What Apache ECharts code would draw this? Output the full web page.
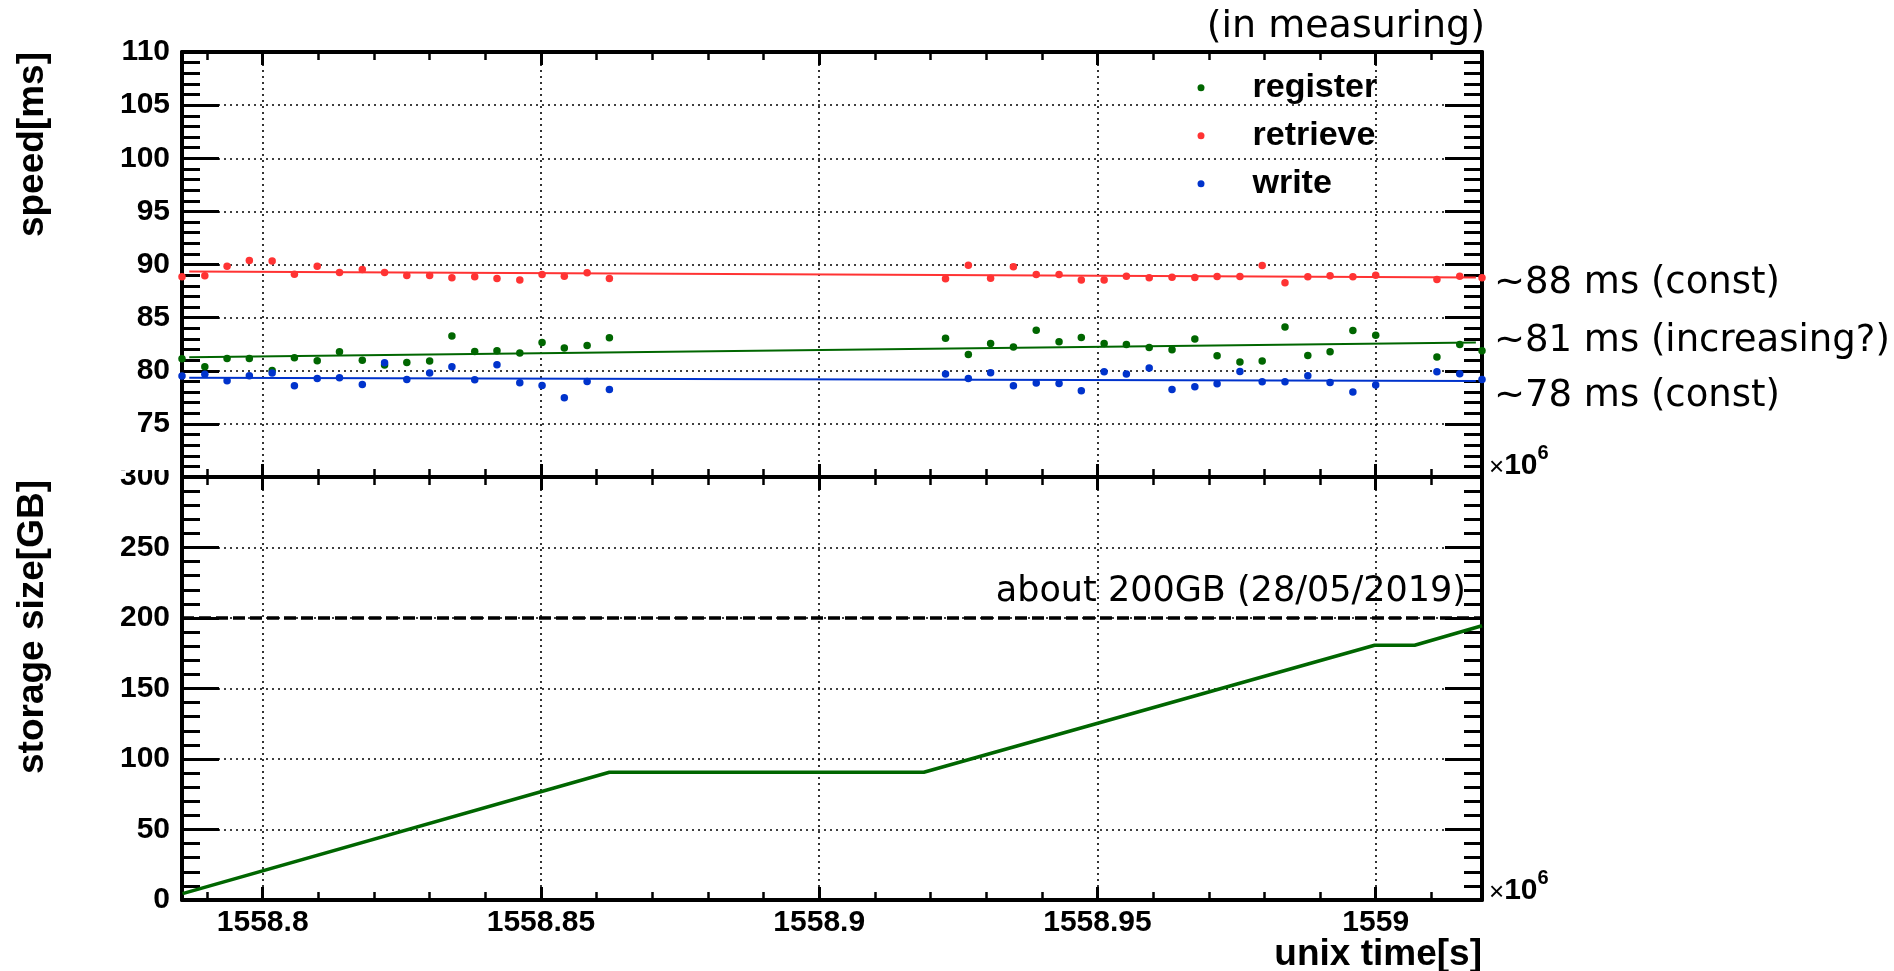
<!DOCTYPE html>
<html>
<head>
<meta charset="utf-8">
<script src="https://cdn.jsdelivr.net/npm/echarts@6/dist/echarts.min.js"></script>
<style>
html, body { margin: 0; padding: 0; background: #fff; }
#chart { width: 1894px; height: 971px; }
</style>
</head>
<body>
<div id="chart"></div>
<script>
// unix time in units of 1e6 s
var unixTime = [
	1558.7855, 1558.7896, 1558.7936, 1558.7976, 1558.8017, 1558.8057, 1558.8098, 1558.8138, 1558.8179, 1558.8219,
	1558.8259, 1558.8300, 1558.8340, 1558.8381, 1558.8421, 1558.8462, 1558.8502, 1558.8542, 1558.8583, 1558.8623,
	1558.9227, 1558.9268, 1558.9308, 1558.9349, 1558.9390, 1558.9431, 1558.9471, 1558.9512, 1558.9552, 1558.9593,
	1558.9634, 1558.9675, 1558.9715, 1558.9756, 1558.9796, 1558.9837, 1558.9878, 1558.9918, 1558.9959, 1559.0000,
	1559.0110, 1559.0151, 1559.0191
];
var registerMs = [
	81.13, 80.38, 81.16, 81.16, 80.03, 81.22, 80.94, 81.79, 81.00, 80.53,
	80.78, 80.91, 83.26, 81.82, 81.88, 81.66, 82.66, 82.13, 82.38, 83.10,
	83.07, 81.54, 82.57, 82.23, 83.82, 82.73, 83.13, 82.57, 82.48, 82.19,
	81.97, 82.98, 81.41, 80.82, 80.91, 84.11, 81.44, 81.79, 83.79, 83.35,
	81.29, 82.48, 81.88
];
var retrieveMs = [
	88.84, 88.93, 89.84, 90.38, 90.34, 89.09, 89.84, 89.25, 89.53, 89.25,
	88.97, 88.97, 88.75, 88.84, 88.68, 88.53, 89.06, 88.90, 89.22, 88.68,
	88.65, 89.94, 88.71, 89.78, 89.06, 89.06, 88.53, 88.53, 88.90, 88.75,
	88.81, 88.78, 88.86, 88.87, 89.91, 88.28, 88.84, 88.93, 88.84, 89.00,
	88.59, 88.90, 88.75
];
var writeMs = [
	79.50, 79.66, 79.06, 79.53, 79.78, 78.59, 79.28, 79.34, 78.71, 80.75,
	79.18, 79.78, 80.38, 79.15, 80.56, 78.87, 78.62, 77.46, 79.00, 78.24,
	79.69, 79.28, 79.81, 78.59, 78.84, 78.81, 78.12, 79.91, 79.69, 80.25,
	78.24, 78.50, 78.78, 79.94, 78.97, 78.97, 79.53, 78.90, 77.99, 78.65,
	79.91, 79.72, 79.18
];

// linear fits
var fitTime = [1558.7868, 1559.0180];
var registerFit = [81.28, 82.66];
var retrieveFit = [89.34, 88.78];
var writeFit = [79.34, 79.03];

// storage size
var storageTime = [1558.7856, 1558.8623, 1558.9188, 1558.9998, 1559.0070, 1559.0191];
var storageGB = [4.5, 90.6, 90.6, 180.7, 180.7, 194.5];
var storageLimit = 200;

var timeMin = 1558.7855;
var timeMax = 1559.0191;

var legendNames = ['register', 'retrieve', 'write'];
var notes = ['\u223C88 ms (const)', '\u223C81 ms (increasing?)', '\u223C78 ms (const)'];

var GREEN = '#006600';
var RED = '#ff3333';
var BLUE = '#0033cc';
var BOLD = '"Liberation Sans", Arial, sans-serif';
var THIN = '"DejaVu Sans", sans-serif';

function pairs(xs, ys) {
	var out = [];
	for (var i = 0; i < xs.length; i++) {
		out.push([xs[i], ys[i]]);
	}
	return out;
}

var dotted = {color: '#000', width: 1.6, type: [2, 4]};

function timeAxis(gridIndex, position, showLabel, showSplit) {
	return {
		type: 'value', gridIndex: gridIndex, position: position,
		min: timeMin, max: timeMax, splitNumber: 5,
		axisLine: {show: true, onZero: false, lineStyle: {color: '#000', width: 4}},
		axisTick: {show: true, inside: true, length: 13, lineStyle: {color: '#000', width: 3}},
		minorTick: {show: true, splitNumber: 5, length: 8, lineStyle: {color: '#000', width: 2.5}},
		axisLabel: {
			show: showLabel, showMinLabel: false, showMaxLabel: false, margin: 8,
			color: '#000', fontFamily: BOLD, fontWeight: 'bold', fontSize: 30,
			formatter: function (v) { return String(parseFloat(v.toFixed(4))); }
		},
		splitLine: {show: showSplit, lineStyle: dotted},
		minorSplitLine: {show: false}
	};
}

function valueAxis(gridIndex, position, min, max, interval, showLabel, hideValue) {
	return {
		type: 'value', gridIndex: gridIndex, position: position,
		min: min, max: max, interval: interval,
		axisLine: {show: true, onZero: false, lineStyle: {color: '#000', width: 4}},
		axisTick: {show: true, inside: true, length: 37, lineStyle: {color: '#000', width: 3}},
		minorTick: {show: true, splitNumber: 5, length: 18, lineStyle: {color: '#000', width: 3}},
		axisLabel: {
			show: showLabel, margin: 12,
			color: '#000', fontFamily: BOLD, fontWeight: 'bold', fontSize: 30,
			formatter: function (v) { return v === hideValue ? '' : String(v); }
		},
		splitLine: {show: showLabel, lineStyle: dotted},
		minorSplitLine: {show: false}
	};
}

function dots(name, ys, color) {
	return {
		name: name, type: 'scatter', xAxisIndex: 0, yAxisIndex: 0,
		data: pairs(unixTime, ys), symbolSize: 7.5, clip: false, z: 4,
		itemStyle: {color: color, opacity: 1}
	};
}

function fit(ys, color) {
	return {
		type: 'line', xAxisIndex: 0, yAxisIndex: 0, data: pairs(fitTime, ys),
		showSymbol: false, symbol: 'none', silent: true, z: 3,
		lineStyle: {color: color, width: 2}
	};
}

function noteText(text, y) {
	return {
		type: 'text', x: 1494, y: y, z: 50,
		style: {text: text, font: '37px ' + THIN, align: 'left', verticalAlign: 'middle', fill: '#000'}
	};
}

function expText(y) {
	return {
		type: 'text', x: 1489, y: y, z: 50,
		style: {
			text: '{x|\u00D7}{b|10}{s|6}', align: 'left', verticalAlign: 'middle',
			rich: {
				x: {fontFamily: BOLD, fontSize: 26, fill: '#000', verticalAlign: 'bottom', lineHeight: 38},
				b: {fontFamily: BOLD, fontWeight: 'bold', fontSize: 30, fill: '#000', verticalAlign: 'bottom', lineHeight: 38},
				s: {fontFamily: BOLD, fontWeight: 'bold', fontSize: 20, fill: '#000', verticalAlign: 'top', lineHeight: 38}
			}
		}
	};
}

var myChart = echarts.init(document.getElementById('chart'), null, {renderer: 'canvas'});
myChart.setOption({
	backgroundColor: '#fff',
	animation: false,
	grid: [
		{left: 182, top: 52, width: 1300, height: 425},
		{left: 182, top: 477, width: 1300, height: 423}
	],
	xAxis: [
		timeAxis(0, 'bottom', false, true),
		timeAxis(0, 'top', false, false),
		timeAxis(1, 'bottom', true, true),
		timeAxis(1, 'top', false, false)
	],
	yAxis: [
		valueAxis(0, 'left', 70, 110, 5, true, 70),
		valueAxis(0, 'right', 70, 110, 5, false, null),
		valueAxis(1, 'left', 0, 300, 50, true, null),
		valueAxis(1, 'right', 0, 300, 50, false, null)
	],
	legend: {
		data: legendNames, orient: 'vertical', left: 1197.5, top: 67.7, padding: 0,
		icon: 'circle', itemWidth: 7, itemHeight: 7, itemGap: 8,
		textStyle: {fontFamily: BOLD, fontWeight: 'bold', fontSize: 34, color: '#000', lineHeight: 40, padding: [0, 0, 0, 43]}
	},
	series: [
		dots('register', registerMs, GREEN),
		dots('retrieve', retrieveMs, RED),
		dots('write', writeMs, BLUE),
		fit(registerFit, GREEN),
		fit(retrieveFit, RED),
		fit(writeFit, BLUE),
		{
			type: 'line', xAxisIndex: 2, yAxisIndex: 2, data: pairs(storageTime, storageGB),
			showSymbol: false, symbol: 'none', z: 3,
			lineStyle: {color: GREEN, width: 3.5},
			markLine: {
				silent: true, symbol: 'none', label: {show: false},
				lineStyle: {color: '#000', width: 3.5, type: [12, 5]},
				data: [{yAxis: storageLimit}]
			}
		}
	],
	graphic: [
		{type: 'rect', shape: {x: 110, y: 452, width: 68, height: 18}, style: {fill: '#fff'}, z: 100},
		{type: 'text', x: 33, y: 52, rotation: Math.PI / 2, z: 50,
			style: {text: 'speed[ms]', font: 'bold 37px ' + BOLD, align: 'right', verticalAlign: 'middle', fill: '#000'}},
		{type: 'text', x: 33, y: 480, rotation: Math.PI / 2, z: 50,
			style: {text: 'storage size[GB]', font: 'bold 37px ' + BOLD, align: 'right', verticalAlign: 'middle', fill: '#000'}},
		{type: 'text', x: 1482, y: 955, z: 50,
			style: {text: 'unix time[s]', font: 'bold 37px ' + BOLD, align: 'right', verticalAlign: 'middle', fill: '#000'}},
		{type: 'text', x: 1485, y: 27, z: 50,
			style: {text: '(in measuring)', font: '38px ' + THIN, align: 'right', verticalAlign: 'middle', fill: '#000'}},
		{type: 'text', x: 1466, y: 592, z: 50,
			style: {text: 'about 200GB (28/05/2019)', font: '35px ' + THIN, align: 'right', verticalAlign: 'middle', fill: '#000'}},
		noteText(notes[0], 283),
		noteText(notes[1], 341),
		noteText(notes[2], 396),
		expText(462),
		expText(887)
	]
});
</script>
</body>
</html>
